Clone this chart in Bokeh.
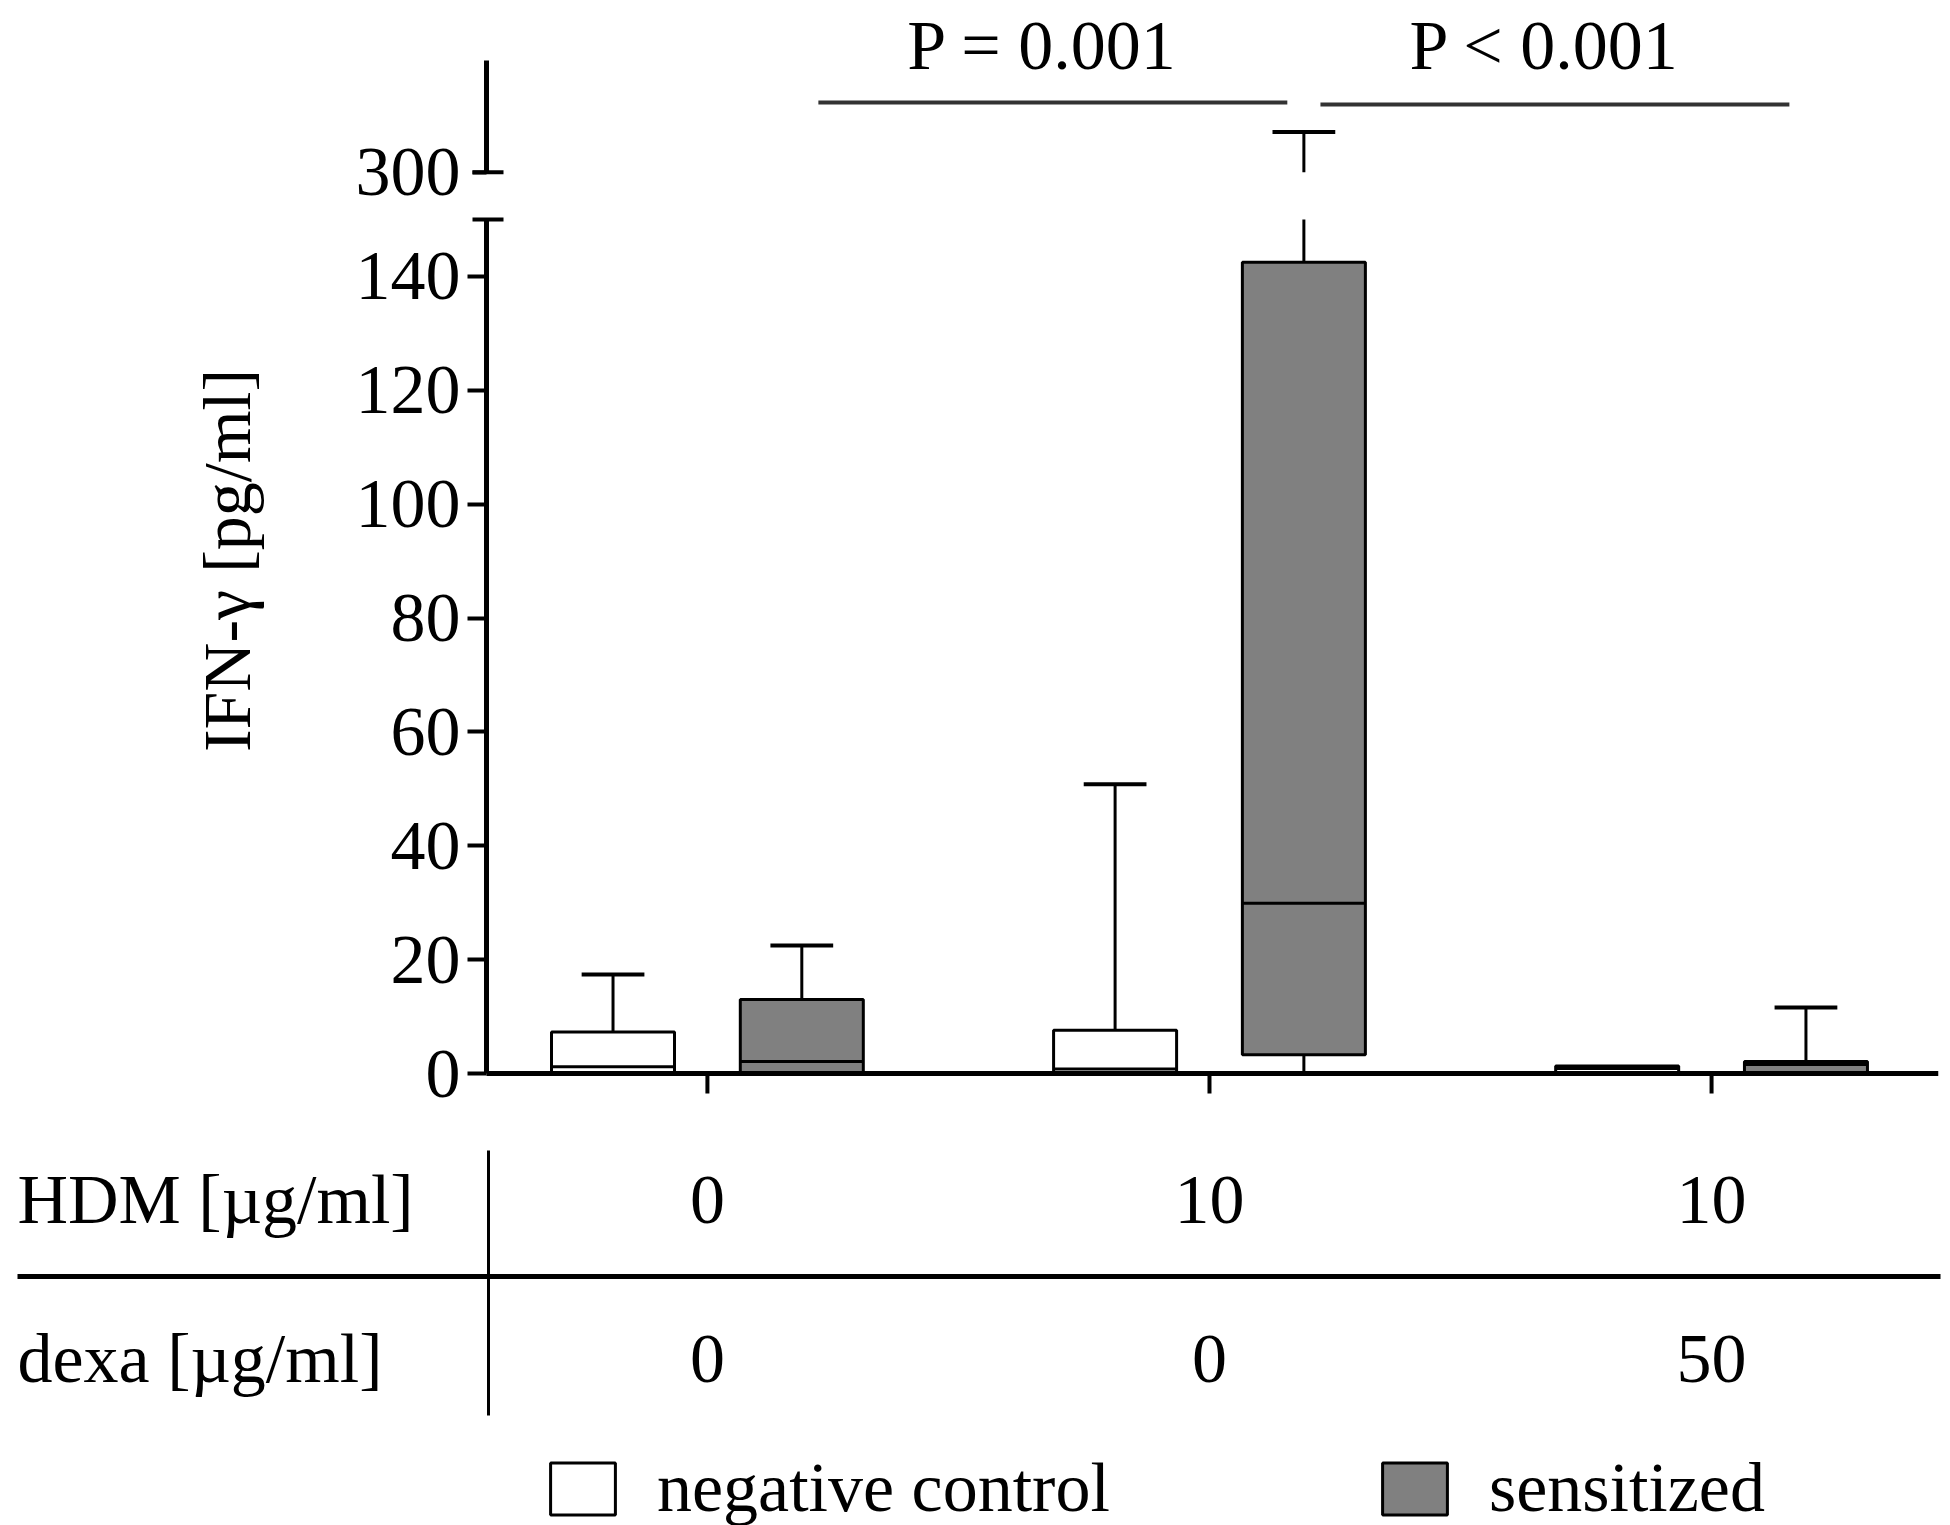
import math
from bokeh.plotting import figure
from bokeh.layouts import column
from bokeh.models import (Range1d, FixedTicker, Legend, LegendItem,
                          ColumnDataSource, LinearAxis)
from bokeh.core.properties import value
from bokeh.embed import file_html
from bokeh.resources import INLINE

# ---------------- data ----------------
conditions = [1, 2, 3]
hdm_values = ["0", "10", "10"]
dexa_values = ["0", "0", "50"]
row_labels = ["HDM [µg/ml]", "dexa [µg/ml]"]
group_names = ["negative control", "sensitized"]

neg_min = [0.0, 0.0, 0.0]
neg_q1 = [0.0, 0.0, 0.0]
neg_med = [1.2, 0.8, 0.9]
neg_q3 = [7.3, 7.6, 1.3]
neg_max = [17.4, 50.8, 1.3]

sen_min = [0.0, 0.0, 0.0]
sen_q1 = [0.0, 3.3, 0.0]
sen_med = [2.1, 29.9, 1.6]
sen_q3 = [13.0, 142.5, 2.1]
sen_max = [22.5, 318.0, 11.6]

lower_ticks = [0, 20, 40, 60, 80, 100, 120, 140]
upper_ticks = [300]
comparisons = [(1, 2), (2, 3)]          # sensitized groups compared
p_labels = ["P = 0.001", "P < 0.001"]
y_label = "IFN-γ [pg/ml]"

# ---------------- layout / style ----------------
FONT = "Liberation Serif"
FS = "70px"
GRAY = "#808080"
TOTAL_W = 1950
FL = 170                 # left border (frame starts here)
FR = 12                  # right border
AXIS_PX = 486            # page x of the y axis
END_PX = TOTAL_W - FR    # page x of right end of the x axis
X0, X1 = 0.56, 3.452
PPU = (END_PX - AXIS_PX) / (X1 - X0)


def xpage(px):
    return X0 + (px - AXIS_PX) / PPU


BOX_W = 0.245
OFFS = 0.188
CAP_W = 0.125
LOWER_MAX = 150
UPPER_MIN, UPPER_MAX = 300, 350
LOW_PPY = 854 / 150.0        # px per unit in the lower panel
UP_PPY = 111.7 / 50.0        # px per unit in the upper panel
Y300_PX = 171.7              # page y of the 300 level

TOP_H = 212                  # whole top canvas is its frame
LOW_TOP = 3
LOW_FRAME_H = 888            # 4 px above 150, 30 px below 0
LOW_BELOW0 = 30
LOW_BOTTOM = 10
LOW_H = LOW_TOP + LOW_FRAME_H + LOW_BOTTOM
BOT_TOP = TOP_H + LOW_H
BOT_H = 1525 - BOT_TOP

x_range = Range1d(xpage(FL), X1)


def base_fig(height, y_range, **kw):
    p = figure(width=TOTAL_W, height=height, x_range=x_range, y_range=y_range,
               output_backend="svg", toolbar_location=None, **kw)
    p.grid.visible = False
    p.outline_line_color = None
    p.background_fill_color = "white"
    p.border_fill_color = "white"
    return p


def style_y(ax, ticks, bounds, tout, standoff):
    ax.fixed_location = X0
    ax.ticker = FixedTicker(ticks=ticks, minor_ticks=[])
    ax.bounds = bounds
    ax.axis_line_width = 5
    ax.major_tick_line_width = 4
    ax.major_tick_out = tout
    ax.major_tick_in = 0
    ax.minor_tick_line_color = None
    ax.major_label_standoff = standoff
    ax.major_label_text_font = FONT
    ax.major_label_text_font_size = FS
    ax.major_label_text_color = "black"


def break_mark(p, level):
    p.segment(x0=[X0 - 14 / PPU], y0=[level], x1=[X0 + 17 / PPU], y1=[level],
              line_color="black", line_width=4)


def series():
    return [(-OFFS, "white", neg_min, neg_q1, neg_med, neg_q3, neg_max),
            (OFFS, GRAY, sen_min, sen_q1, sen_med, sen_q3, sen_max)]


def draw_lower(p):
    for off, fill, mn, q1, med, q3, mx in series():
        xs = [c + off for c in conditions]
        src = ColumnDataSource(dict(
            x=xs, xl=[x - BOX_W / 2 for x in xs], xr=[x + BOX_W / 2 for x in xs],
            mn=mn, q1=q1, med=med, q3=q3,
            wtop=[min(v, LOWER_MAX) for v in mx]))
        p.segment(x0="x", y0="q3", x1="x", y1="wtop", source=src,
                  line_color="black", line_width=3)
        p.segment(x0="x", y0="mn", x1="x", y1="q1", source=src,
                  line_color="black", line_width=3)
        keep = [i for i, v in enumerate(mx) if q3[i] < v <= LOWER_MAX]
        cap = ColumnDataSource(dict(
            x0=[xs[i] - CAP_W / 2 for i in keep], x1=[xs[i] + CAP_W / 2 for i in keep],
            y=[mx[i] for i in keep]))
        p.segment(x0="x0", y0="y", x1="x1", y1="y", source=cap,
                  line_color="black", line_width=4)
        p.vbar(x="x", bottom="q1", top="q3", width=BOX_W, source=src,
               fill_color=fill, line_color="black", line_width=3)
        p.segment(x0="xl", y0="med", x1="xr", y1="med", source=src,
                  line_color="black", line_width=3)


def draw_upper(p):
    for off, fill, mn, q1, med, q3, mx in series():
        xs = [c + off for c in conditions]
        keep = [i for i, v in enumerate(mx) if v > UPPER_MIN]
        if not keep:
            continue
        src = ColumnDataSource(dict(
            x=[xs[i] for i in keep],
            x0=[xs[i] - CAP_W / 2 for i in keep], x1=[xs[i] + CAP_W / 2 for i in keep],
            y0=[UPPER_MIN for i in keep], y=[mx[i] for i in keep]))
        p.segment(x0="x", y0="y0", x1="x", y1="y", source=src,
                  line_color="black", line_width=3)
        p.segment(x0="x0", y0="y", x1="x1", y1="y", source=src,
                  line_color="black", line_width=4)


# ---------------- upper panel (above the axis break) ----------------
pt = base_fig(TOP_H, Range1d(UPPER_MIN - (TOP_H - Y300_PX) / UP_PPY,
                             UPPER_MIN + Y300_PX / UP_PPY),
              x_axis_location=None, min_border_left=FL, min_border_right=FR,
              min_border_top=0, min_border_bottom=0)
style_y(pt.yaxis[0], upper_ticks, (UPPER_MIN, UPPER_MAX), 14, 12)
break_mark(pt, UPPER_MIN)
draw_upper(pt)

sen_x = [c + OFFS for c in conditions]
GAP = 0.033
bx0 = [sen_x[a - 1] + GAP for a, b in comparisons]
bx1 = [sen_x[b - 1] - GAP for a, b in comparisons]
by = [331.2, 330.3]
pt.segment(x0=bx0, y0=by, x1=bx1, y1=by, line_color="#333333", line_width=4)
pt.text(x=[(a + b) / 2 - 0.02 for a, b in zip(bx0, bx1)], y=[356.5, 356.5],
        text=p_labels, text_align="center", text_baseline="middle",
        text_font=value(FONT), text_font_size=value(FS), text_color="black")

# ---------------- lower panel ----------------
pl = base_fig(LOW_H, Range1d(-LOW_BELOW0 / LOW_PPY,
                             (LOW_FRAME_H - LOW_BELOW0) / LOW_PPY),
              x_axis_location=None, min_border_left=FL, min_border_right=FR,
              min_border_top=LOW_TOP, min_border_bottom=LOW_BOTTOM)
style_y(pl.yaxis[0], lower_ticks, (0, LOWER_MAX), 19, 7)

xa = LinearAxis(fixed_location=0, ticker=FixedTicker(ticks=[], minor_ticks=[]),
                bounds=(X0, X1), axis_line_width=5,
                major_tick_line_color=None, minor_tick_line_color=None)
pl.add_layout(xa, "below")
# x-axis tick marks at the condition positions (pointing down)
pl.segment(x0=conditions, y0=[0] * 3, x1=conditions, y1=[-20 / LOW_PPY] * 3,
           line_color="black", line_width=4)
break_mark(pl, LOWER_MAX)
draw_lower(pl)

pl.text(x=[xpage(226)], y=[(1073 - 560) / LOW_PPY], text=[y_label],
        angle=math.pi / 2, text_align="center", text_baseline="middle",
        text_font=value(FONT), text_font_size=value("68px"), text_color="black")

# ---------------- condition table + legend ----------------
pb = figure(width=TOTAL_W, height=BOT_H,
            x_range=Range1d(xpage(0), xpage(TOTAL_W)),
            y_range=Range1d(BOT_TOP + BOT_H, BOT_TOP),
            output_backend="svg", toolbar_location=None,
            x_axis_location=None, y_axis_location=None,
            min_border_left=0, min_border_right=0, min_border_top=0,
            min_border_bottom=0)
pb.grid.visible = False
pb.outline_line_color = None

row_y = [1199, 1358]
pb.text(x=[xpage(17)] * 2, y=row_y, text=row_labels, text_align="left",
        text_baseline="middle", text_font=value(FONT),
        text_font_size=value(FS), text_color="black")
pb.text(x=conditions, y=[row_y[0]] * 3, text=hdm_values, text_align="center",
        text_baseline="middle", text_font=value(FONT),
        text_font_size=value(FS), text_color="black")
pb.text(x=conditions, y=[row_y[1]] * 3, text=dexa_values, text_align="center",
        text_baseline="middle", text_font=value(FONT),
        text_font_size=value(FS), text_color="black")
pb.segment(x0=[xpage(488)], y0=[1150], x1=[xpage(488)], y1=[1415],
           line_color="black", line_width=3)
pb.segment(x0=[xpage(17)], y0=[1276], x1=[xpage(1940)], y1=[1276],
           line_color="black", line_width=5)

# legend proxies (off-canvas, only used for the legend swatches)
r_neg = pb.quad(left=[0], right=[0], top=[5000], bottom=[5000],
                fill_color="white", line_color="black", line_width=3)
r_sen = pb.quad(left=[0], right=[0], top=[5000], bottom=[5000],
                fill_color=GRAY, line_color="black", line_width=3)
legend = Legend(items=[LegendItem(label=group_names[0], renderers=[r_neg]),
                       LegendItem(label=group_names[1], renderers=[r_sen])],
                orientation="horizontal", location=(542, -3),
                glyph_width=81, glyph_height=65, label_standoff=34, spacing=264,
                padding=0, margin=0, border_line_alpha=0,
                background_fill_alpha=0, label_text_font=FONT,
                label_text_font_size=FS, label_text_color="black")
pb.add_layout(legend)

for f in (pt, pl, pb):
    try:
        f.frame_align = False
    except Exception:
        pass

layout = column(pt, pl, pb, spacing=0)
open("out.html", "w").write(file_html(layout, INLINE))
